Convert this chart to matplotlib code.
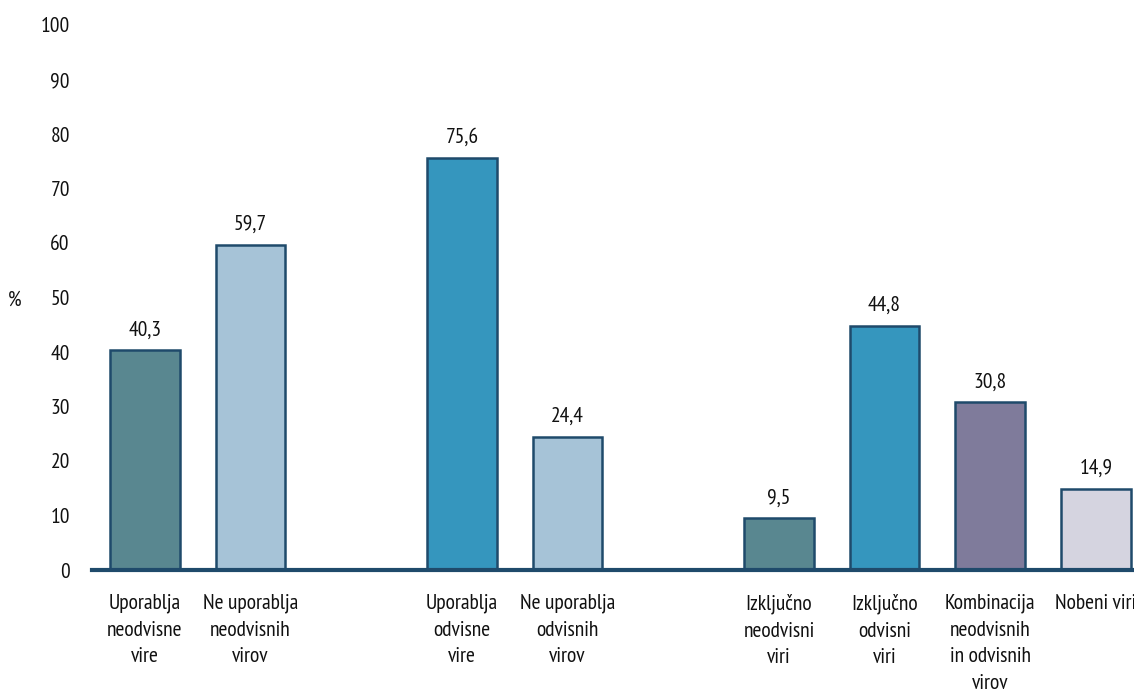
import matplotlib
matplotlib.use("Agg")
import matplotlib.pyplot as plt

plt.rcParams['font.family'] = ['PT Sans Narrow', 'Roboto Condensed', 'DejaVu Sans']

categories = [
    "Uporablja\nneodvisne\nvire",
    "Ne uporablja\nneodvisnih\nvirov",
    "Uporablja\nodvisne\nvire",
    "Ne uporablja\nodvisnih\nvirov",
    "Izključno\nneodvisni\nviri",
    "Izključno\nodvisni\nviri",
    "Kombinacija\nneodvisnih\nin odvisnih\nvirov",
    "Nobeni viri",
]
values = [40.3, 59.7, 75.6, 24.4, 9.5, 44.8, 30.8, 14.9]
value_labels = ["40,3", "59,7", "75,6", "24,4", "9,5", "44,8", "30,8", "14,9"]
positions = [0, 1, 3, 4, 6, 7, 8, 9]
colors = ["#598790", "#a6c3d7", "#3596be", "#a6c3d7", "#598790", "#3596be", "#7f7b9b", "#d5d4e0"]
yticks = [0, 10, 20, 30, 40, 50, 60, 70, 80, 90, 100]

fig = plt.figure(figsize=(11.34, 6.93), dpi=100)
ax = fig.add_axes([92/1134, (693-570)/693, 1 - 92/1134, (570-25)/693])

ax.bar(positions, values, width=0.66, color=colors, edgecolor="#1f4a6b", linewidth=1.8, zorder=2)
for p, v, t in zip(positions, values, value_labels):
    ax.text(p, v + 2.0, t, ha="center", va="bottom", fontsize=15.5, color="#111111")

ax.set_xlim(-0.5, 9.36)
ax.set_ylim(0, 100)
ax.set_yticks(yticks)
ax.set_yticklabels([str(y) for y in yticks], fontsize=15.5)
ax.set_xticks(positions)
ax.set_xticklabels(categories, fontsize=15.5, linespacing=1.5, va="top")
ax.tick_params(axis="both", length=0, colors="#111111")
ax.tick_params(axis="y", pad=16)
ax.tick_params(axis="x", pad=17)
for s in ["top", "right", "left"]:
    ax.spines[s].set_visible(False)
ax.spines["bottom"].set_color("#1f4a6b")
ax.spines["bottom"].set_linewidth(3)
ax.spines["bottom"].set_zorder(3)

fig.text(15/1134, 1 - 300/693, "%", fontsize=15.5, ha="center", va="center", color="#111111")

fig.savefig("out.png", dpi=100)
